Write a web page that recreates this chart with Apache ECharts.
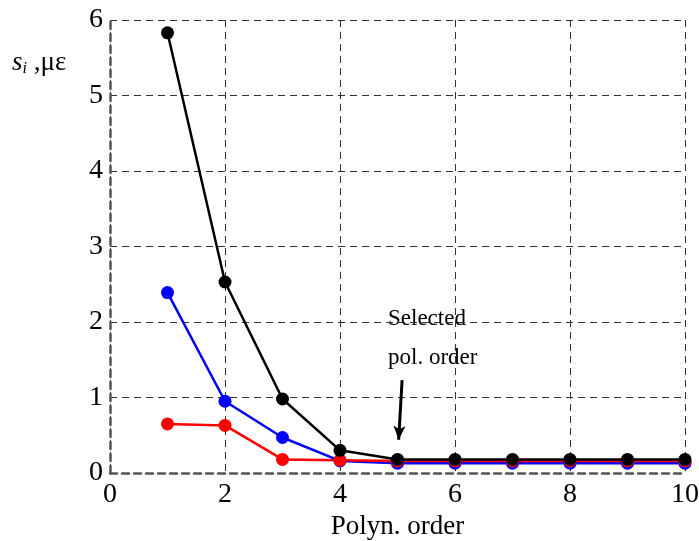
<!DOCTYPE html>
<html>
<head>
<meta charset="utf-8">
<script src="https://cdn.jsdelivr.net/npm/echarts@6/dist/echarts.min.js"></script>
<style>
  html, body { margin: 0; padding: 0; background: #fff; }
  #chart { width: 699px; height: 541px; }
</style>
</head>
<body>
<div id="chart"></div>
<script>
// data
const orders = [1, 2, 3, 4, 5, 6, 7, 8, 9, 10];
const blueValues = [2.39, 0.95, 0.47, 0.16, 0.13, 0.13, 0.13, 0.13, 0.13, 0.13];
const redValues = [0.65, 0.63, 0.18, 0.17, 0.16, 0.16, 0.16, 0.16, 0.16, 0.16];
const blackValues = [5.83, 2.53, 0.98, 0.30, 0.18, 0.18, 0.18, 0.18, 0.18, 0.18];
const arrowFrom = [5.08, 1.23];
const arrowTo = [5.02, 0.44];

const serif = 'Liberation Serif, Times New Roman, serif';
const dash = { color: '#333', type: [7, 5], width: 1 };

function pairs(vals) {
    return orders.map((x, i) => [x, vals[i]]);
}

function lineSeries(name, vals, color) {
    return {
        name: name,
        type: 'line',
        data: pairs(vals),
        symbol: 'circle',
        symbolSize: 13,
        lineStyle: { color: color, width: 2.5 },
        itemStyle: { color: color },
        animation: false
    };
}

let myChart = echarts.init(document.getElementById('chart'));

let option = {
    animation: false,
    grid: { left: 110, right: 14, top: 20, bottom: 68, containLabel: false, outerBoundsMode: 'none' },
    xAxis: {
        type: 'value',
        min: 0, max: 10, interval: 2,
        axisLine: { show: true, lineStyle: { color: '#555', type: [7, 5], width: 2.5 } },
        axisTick: { show: false },
        axisLabel: { color: '#000', fontFamily: serif, fontSize: 28, margin: 8 },
        splitLine: { show: true, lineStyle: dash },
        name: 'Polyn. order',
        nameLocation: 'middle',
        nameGap: 37,
        nameTextStyle: { color: '#000', fontFamily: serif, fontSize: 27 }
    },
    yAxis: {
        type: 'value',
        min: 0, max: 6, interval: 1,
        axisLine: { show: true, lineStyle: { color: '#555', type: [7, 5], width: 2.5 } },
        axisTick: { show: false },
        axisLabel: { color: '#000', fontFamily: serif, fontSize: 28, margin: 7 },
        splitLine: { show: true, lineStyle: dash }
    },
    series: [
        lineSeries('blue', blueValues, '#0000ff'),
        lineSeries('red', redValues, '#ff0000'),
        {
            ...lineSeries('black', blackValues, '#000000'),
            markLine: {
                silent: true,
                symbol: ['none', 'arrow'],
                symbolSize: [9, 14],
                lineStyle: { color: '#000', type: 'solid', width: 3 },
                label: { show: false },
                data: [[{ coord: arrowFrom }, { coord: arrowTo }]]
            }
        }
    ],
    graphic: [
        {
            type: 'text', left: 388, top: 307,
            style: { text: 'Selected', font: '23px ' + serif, fill: '#000' }
        },
        {
            type: 'text', left: 388, top: 346,
            style: { text: 'pol. order', font: '23px ' + serif, fill: '#000' }
        },
        {
            type: 'text', left: 12, top: 49,
            style: {
                text: '{s|s}{i|i}{t| ,με}',
                rich: {
                    s: { fontFamily: serif, fontStyle: 'italic', fontSize: 27, fill: '#000' },
                    i: { fontFamily: serif, fontStyle: 'italic', fontSize: 16, fill: '#000', verticalAlign: 'bottom', padding: [12, 0, 0, 0] },
                    t: { fontFamily: serif, fontSize: 27, fill: '#000' }
                }
            }
        }
    ]
};

myChart.setOption(option);
</script>
</body>
</html>
